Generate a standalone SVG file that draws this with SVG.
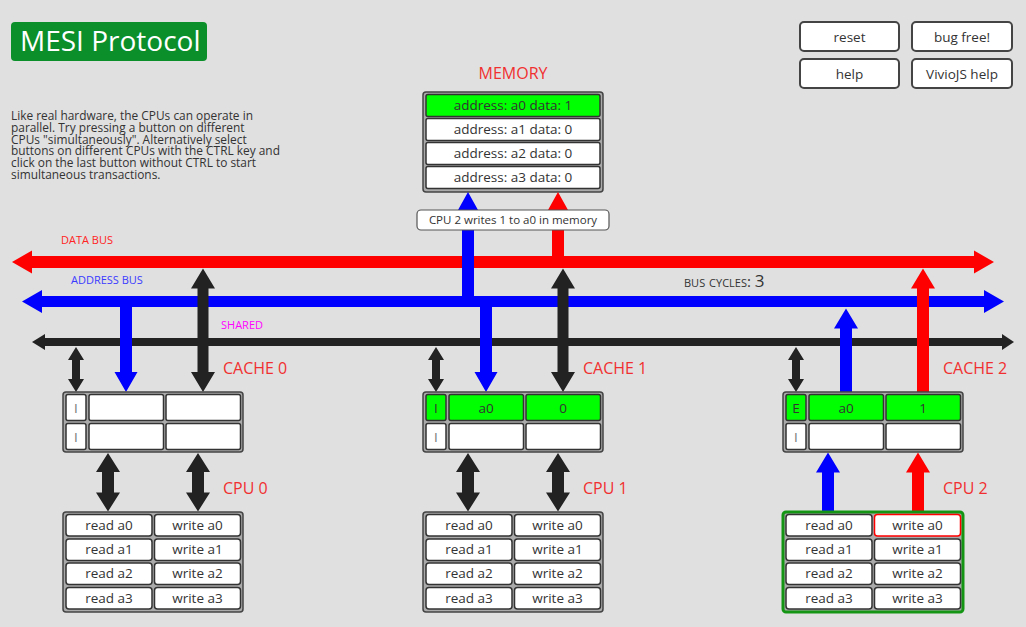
<svg xmlns="http://www.w3.org/2000/svg" width="1026" height="627" viewBox="0 0 1026 627">
<style>
text{font-family:"Open Sans","DejaVu Sans",sans-serif}
.lbl{fill:#f03030;font-size:16px}
.box{fill:#aaa;stroke:#444;stroke-width:1.5}
.cell{fill:#fff;stroke:#333;stroke-width:1.5}
.on{fill:#00ff00}
.btn{fill:#fff;stroke:#444;stroke-width:2}
.ct{font-size:13.5px;fill:#333;text-anchor:middle}
.gi{fill:#777}
.bk{fill:#222}
.bl{fill:#0000ff}
.rd{fill:#ff0000}
</style>
<rect width="1026" height="627" fill="#e0e0e0"/>

<g id="title">
<rect x="11" y="22" width="196" height="39" rx="4" fill="#0a8f2a"/>
<text x="20" y="51" font-size="28" fill="#fff">MESI Protocol</text>
</g>

<g id="description" font-size="11.9" fill="#333">
<text x="11" y="120">Like real hardware, the CPUs can operate in</text>
<text x="11" y="131.8">parallel. Try pressing a button on different</text>
<text x="11" y="143.6">CPUs "simultaneously". Alternatively select</text>
<text x="11" y="155.4">buttons on different CPUs with the CTRL key and</text>
<text x="11" y="167.2">click on the last button without CTRL to start</text>
<text x="11" y="179">simultaneous transactions.</text>
</g>

<g id="buttons">
<g id="btn-reset"><rect class="btn" x="800" y="22" width="99" height="29" rx="4"/><text class="ct" x="849.5" y="41.5">reset</text></g>
<g id="btn-bugfree"><rect class="btn" x="912" y="22" width="100" height="29" rx="4"/><text class="ct" x="962" y="41.5">bug free!</text></g>
<g id="btn-help"><rect class="btn" x="800" y="59" width="99" height="29" rx="4"/><text class="ct" x="849.5" y="78.5">help</text></g>
<g id="btn-viviojs"><rect class="btn" x="912" y="59" width="100" height="29" rx="4"/><text class="ct" x="962" y="78.5">VivioJS help</text></g>
</g>

<g id="memory">
<text class="lbl" x="513" y="79" text-anchor="middle">MEMORY</text>
<rect class="box" x="423" y="92" width="180" height="100" rx="3"/>
<rect class="cell on" x="426" y="94.5" width="174" height="22" rx="2"/>
<rect class="cell" x="426" y="118.5" width="174" height="22" rx="2"/>
<rect class="cell" x="426" y="142.5" width="174" height="22" rx="2"/>
<rect class="cell" x="426" y="166.5" width="174" height="22" rx="2"/>
<text class="ct" x="513" y="110">address: a0 data: 1</text>
<text class="ct" x="513" y="134">address: a1 data: 0</text>
<text class="ct" x="513" y="158">address: a2 data: 0</text>
<text class="ct" x="513" y="182">address: a3 data: 0</text>
</g>

<g id="bus-labels" font-size="11">
<text x="61" y="244" fill="#f22">DATA BUS</text>
<text x="71" y="284" fill="#3a3aff">ADDRESS BUS</text>
<text x="221" y="329" fill="#f0f">SHARED</text>
<text x="684" y="286.5" fill="#333" font-size="15" style="font-variant:small-caps">bus cycles: <tspan font-size="17">3</tspan></text>
</g>

<g id="connectors">
<path id="data-bus" class="rd" d="M12,262 L32,250.5 L32,256 L974,256 L974,250.5 L994,262 L974,273.5 L974,268 L32,268 L32,273.5 Z"/>
<path id="address-bus" class="bl" d="M22,301.5 L42,290 L42,296 L984,296 L984,290 L1004,301.5 L984,313 L984,307 L42,307 L42,313 Z"/>
<path id="shared-bus" class="bk" d="M32,342 L45,334 L45,338 L1002,338 L1002,334 L1014,342 L1002,350 L1002,346 L45,346 L45,350 Z"/>

<path id="mem-addr" class="bl" d="M462,302 L462,210 L458,210 L468,192 L478,210 L474,210 L474,302 Z"/>
<path id="mem-data" class="rd" d="M552,262 L552,210 L548,210 L558,192 L568,210 L564,210 L564,262 Z"/>

<path id="c0-shared" class="bk" d="M76,347 L84,360 L80,360 L80,379 L84,379 L76,392 L68,379 L72,379 L72,360 L68,360 Z"/>
<path id="c0-addr" class="bl" d="M120,301 L132,301 L132,372 L137.5,372 L126,392 L114.5,372 L120,372 Z"/>
<path id="c0-data" class="bk" d="M203,268.5 L215,288.5 L208.5,288.5 L208.5,372 L215,372 L203,392 L191,372 L197.5,372 L197.5,288.5 L191,288.5 Z"/>
<path id="cpu0-addr" class="bk" d="M108,453 L120,472 L114,472 L114,492.5 L120,492.5 L108,511.5 L96,492.5 L102,492.5 L102,472 L96,472 Z"/>
<path id="cpu0-data" class="bk" d="M198,453 L210,472 L204,472 L204,492.5 L210,492.5 L198,511.5 L186,492.5 L192,492.5 L192,472 L186,472 Z"/>

<path id="c1-shared" class="bk" d="M436,347 L444,360 L440,360 L440,379 L444,379 L436,392 L428,379 L432,379 L432,360 L428,360 Z"/>
<path id="c1-addr" class="bl" d="M480,301 L492,301 L492,372 L497.5,372 L486,392 L474.5,372 L480,372 Z"/>
<path id="c1-data" class="bk" d="M563,268.5 L575,288.5 L568.5,288.5 L568.5,372 L575,372 L563,392 L551,372 L557.5,372 L557.5,288.5 L551,288.5 Z"/>
<path id="cpu1-addr" class="bk" d="M468,453 L480,472 L474,472 L474,492.5 L480,492.5 L468,511.5 L456,492.5 L462,492.5 L462,472 L456,472 Z"/>
<path id="cpu1-data" class="bk" d="M558,453 L570,472 L564,472 L564,492.5 L570,492.5 L558,511.5 L546,492.5 L552,492.5 L552,472 L546,472 Z"/>

<path id="c2-shared" class="bk" d="M796,347 L804,360 L800,360 L800,379 L804,379 L796,392 L788,379 L792,379 L792,360 L788,360 Z"/>
<path id="c2-addr" class="bl" d="M840,392 L840,328.5 L834,328.5 L846,308.5 L858,328.5 L852,328.5 L852,392 Z"/>
<path id="c2-data" class="rd" d="M917,392 L917,288.5 L911,288.5 L923,268.5 L935,288.5 L929,288.5 L929,392 Z"/>
<path id="cpu2-addr" class="bl" d="M822,512 L822,472.5 L816,472.5 L828,452.5 L840,472.5 L834,472.5 L834,512 Z"/>
<path id="cpu2-data" class="rd" d="M912,512 L912,472.5 L906,472.5 L918,452.5 L930,472.5 L924,472.5 L924,512 Z"/>
</g>

<g id="transaction-label">
<rect x="417" y="210" width="192" height="20" rx="4" fill="#fff" stroke="#555" stroke-width="1.2"/>
<text x="513" y="224" font-size="11.5" fill="#333" text-anchor="middle">CPU 2 writes 1 to a0 in memory</text>
</g>

<g id="cache0" transform="translate(63,392)">
<text class="lbl" x="160" y="-18">CACHE 0</text>
<rect class="box" x="0" y="0" width="180" height="60" rx="3"/>
<rect class="cell" x="3" y="2.5" width="20" height="26" rx="2"/>
<rect class="cell" x="26" y="2.5" width="74.5" height="26" rx="2"/>
<rect class="cell" x="103" y="2.5" width="74.5" height="26" rx="2"/>
<rect class="cell" x="3" y="31.5" width="20" height="26" rx="2"/>
<rect class="cell" x="26" y="31.5" width="74.5" height="26" rx="2"/>
<rect class="cell" x="103" y="31.5" width="74.5" height="26" rx="2"/>
<text class="ct gi" x="13" y="20.5">I</text>
<text class="ct gi" x="13" y="49.5">I</text>
</g>

<g id="cache1" transform="translate(423,392)">
<text class="lbl" x="160" y="-18">CACHE 1</text>
<rect class="box" x="0" y="0" width="180" height="60" rx="3"/>
<rect class="cell on" x="3" y="2.5" width="20" height="26" rx="2"/>
<rect class="cell on" x="26" y="2.5" width="74.5" height="26" rx="2"/>
<rect class="cell on" x="103" y="2.5" width="74.5" height="26" rx="2"/>
<rect class="cell" x="3" y="31.5" width="20" height="26" rx="2"/>
<rect class="cell" x="26" y="31.5" width="74.5" height="26" rx="2"/>
<rect class="cell" x="103" y="31.5" width="74.5" height="26" rx="2"/>
<text class="ct" x="13" y="20.5">I</text>
<text class="ct" x="63" y="20.5">a0</text>
<text class="ct" x="140" y="20.5">0</text>
<text class="ct gi" x="13" y="49.5">I</text>
</g>

<g id="cache2" transform="translate(783,392)">
<text class="lbl" x="160" y="-18">CACHE 2</text>
<rect class="box" x="0" y="0" width="180" height="60" rx="3"/>
<rect class="cell on" x="3" y="2.5" width="20" height="26" rx="2"/>
<rect class="cell on" x="26" y="2.5" width="74.5" height="26" rx="2"/>
<rect class="cell on" x="103" y="2.5" width="74.5" height="26" rx="2"/>
<rect class="cell" x="3" y="31.5" width="20" height="26" rx="2"/>
<rect class="cell" x="26" y="31.5" width="74.5" height="26" rx="2"/>
<rect class="cell" x="103" y="31.5" width="74.5" height="26" rx="2"/>
<text class="ct" x="13" y="20.5" fill="#111">E</text>
<text class="ct" x="63" y="20.5">a0</text>
<text class="ct" x="140" y="20.5">1</text>
<text class="ct gi" x="13" y="49.5">I</text>
</g>

<g id="cpu0" transform="translate(63,512)">
<text class="lbl" x="160" y="-18">CPU 0</text>
<rect class="box" x="0" y="0" width="180" height="100" rx="3"/>
<rect class="cell" x="3" y="2.5" width="86" height="21.5" rx="3"/>
<rect class="cell" x="91.5" y="2.5" width="86" height="21.5" rx="3"/>
<rect class="cell" x="3" y="27" width="86" height="21.5" rx="3"/>
<rect class="cell" x="91.5" y="27" width="86" height="21.5" rx="3"/>
<rect class="cell" x="3" y="51" width="86" height="21.5" rx="3"/>
<rect class="cell" x="91.5" y="51" width="86" height="21.5" rx="3"/>
<rect class="cell" x="3" y="75.5" width="86" height="21.5" rx="3"/>
<rect class="cell" x="91.5" y="75.5" width="86" height="21.5" rx="3"/>
<text class="ct" x="46" y="17.5">read a0</text><text class="ct" x="134.5" y="17.5">write a0</text>
<text class="ct" x="46" y="42">read a1</text><text class="ct" x="134.5" y="42">write a1</text>
<text class="ct" x="46" y="66">read a2</text><text class="ct" x="134.5" y="66">write a2</text>
<text class="ct" x="46" y="90.5">read a3</text><text class="ct" x="134.5" y="90.5">write a3</text>
</g>

<g id="cpu1" transform="translate(423,512)">
<text class="lbl" x="160" y="-18">CPU 1</text>
<rect class="box" x="0" y="0" width="180" height="100" rx="3"/>
<rect class="cell" x="3" y="2.5" width="86" height="21.5" rx="3"/>
<rect class="cell" x="91.5" y="2.5" width="86" height="21.5" rx="3"/>
<rect class="cell" x="3" y="27" width="86" height="21.5" rx="3"/>
<rect class="cell" x="91.5" y="27" width="86" height="21.5" rx="3"/>
<rect class="cell" x="3" y="51" width="86" height="21.5" rx="3"/>
<rect class="cell" x="91.5" y="51" width="86" height="21.5" rx="3"/>
<rect class="cell" x="3" y="75.5" width="86" height="21.5" rx="3"/>
<rect class="cell" x="91.5" y="75.5" width="86" height="21.5" rx="3"/>
<text class="ct" x="46" y="17.5">read a0</text><text class="ct" x="134.5" y="17.5">write a0</text>
<text class="ct" x="46" y="42">read a1</text><text class="ct" x="134.5" y="42">write a1</text>
<text class="ct" x="46" y="66">read a2</text><text class="ct" x="134.5" y="66">write a2</text>
<text class="ct" x="46" y="90.5">read a3</text><text class="ct" x="134.5" y="90.5">write a3</text>
</g>

<g id="cpu2" transform="translate(783,512)">
<text class="lbl" x="160" y="-18">CPU 2</text>
<rect class="box" x="0" y="0" width="180" height="100" rx="3" style="stroke:#149614;stroke-width:3"/>
<rect class="cell" x="3" y="2.5" width="86" height="21.5" rx="3"/>
<rect class="cell" x="91.5" y="2.5" width="86" height="21.5" rx="3" style="stroke:#ff0000"/>
<rect class="cell" x="3" y="27" width="86" height="21.5" rx="3"/>
<rect class="cell" x="91.5" y="27" width="86" height="21.5" rx="3"/>
<rect class="cell" x="3" y="51" width="86" height="21.5" rx="3"/>
<rect class="cell" x="91.5" y="51" width="86" height="21.5" rx="3"/>
<rect class="cell" x="3" y="75.5" width="86" height="21.5" rx="3"/>
<rect class="cell" x="91.5" y="75.5" width="86" height="21.5" rx="3"/>
<text class="ct" x="46" y="17.5">read a0</text><text class="ct" x="134.5" y="17.5">write a0</text>
<text class="ct" x="46" y="42">read a1</text><text class="ct" x="134.5" y="42">write a1</text>
<text class="ct" x="46" y="66">read a2</text><text class="ct" x="134.5" y="66">write a2</text>
<text class="ct" x="46" y="90.5">read a3</text><text class="ct" x="134.5" y="90.5">write a3</text>
</g>
</svg>
